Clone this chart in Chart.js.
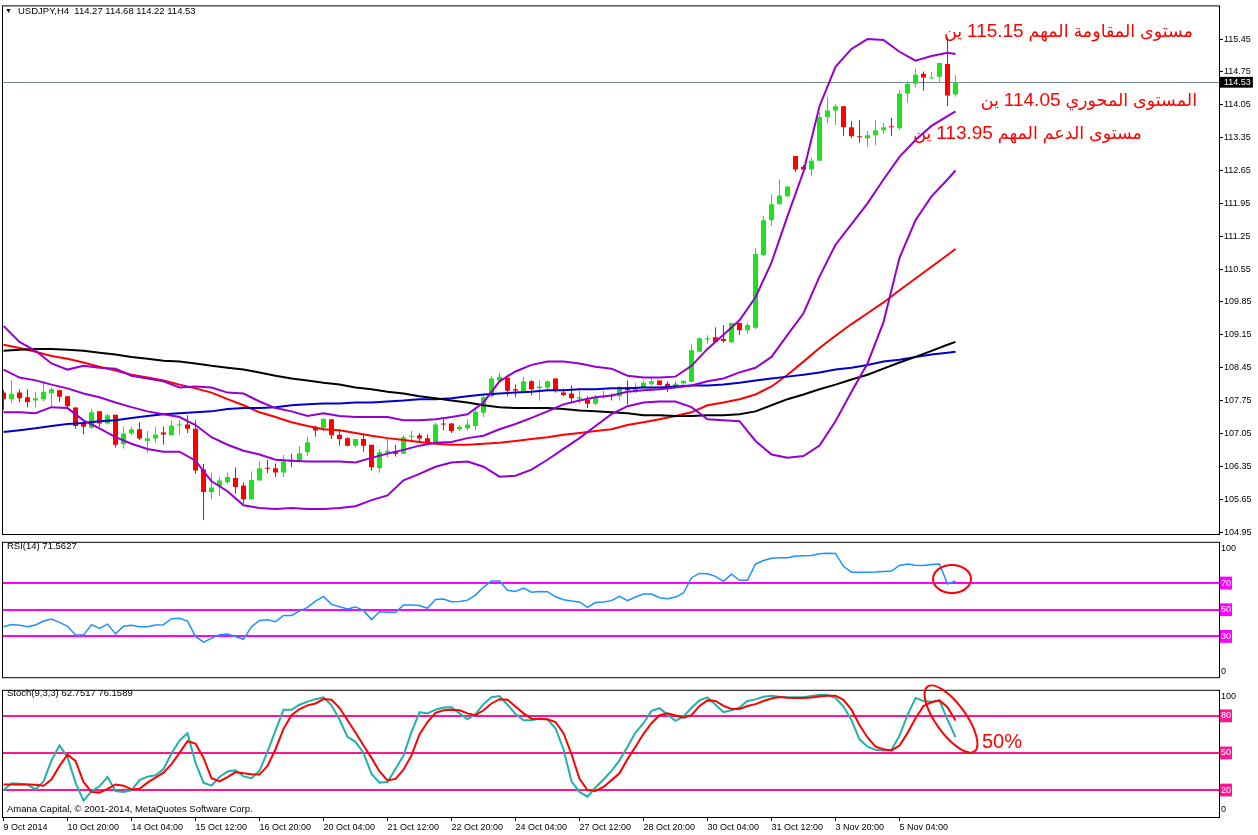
<!DOCTYPE html>
<html><head><meta charset="utf-8">
<script src="https://cdn.jsdelivr.net/npm/chart.js@4.4.1/dist/chart.umd.min.js"></script>
<style>
body{margin:0;background:#fff;width:1258px;height:835px;overflow:hidden;position:relative;font-family:"Liberation Sans",Arial,sans-serif;}
canvas{position:absolute;left:0;}
.t{position:absolute;font-size:9.5px;line-height:12px;color:#000;white-space:nowrap;}
.ar{position:absolute;color:#f00;font-size:17.5px;line-height:22px;direction:rtl;white-space:nowrap;font-family:"Liberation Sans","DejaVu Sans",sans-serif;}
.ar b{font-weight:normal;font-size:19px;}
</style></head><body>
<canvas id="main" width="1258" height="545" style="top:0"></canvas>
<canvas id="rsi" width="1258" height="160" style="top:530px"></canvas>
<canvas id="sto" width="1258" height="157" style="top:678px"></canvas>
<svg width="1258" height="835" style="position:absolute;left:0;top:0;pointer-events:none">
<ellipse cx="952" cy="579" rx="19" ry="14" fill="none" stroke="#f00" stroke-width="2"/>
<ellipse cx="951" cy="719" rx="40" ry="15" transform="rotate(54 951 719)" fill="none" stroke="#f00" stroke-width="2"/>
</svg>
<div class="t" style="left:5px;top:5px;font-size:7px">▼</div>
<div class="t" style="left:18px;top:5px">USDJPY,H4&nbsp; 114.27 114.68 114.22 114.53</div>
<div class="t" style="left:7px;top:540px">RSI(14) 71.5627</div>
<div class="t" style="left:7px;top:687px">Stoch(9,3,3) 62.7517 76.1589</div>
<div class="t" style="left:7px;top:803px">Amana Capital, © 2001-2014, MetaQuotes Software Corp.</div>
<div class="ar" style="right:65px;top:20px">مستوى المقاومة المهم <b>115.15</b> ين</div>
<div class="ar" style="right:61px;top:89px">المستوى المحوري <b>114.05</b> ين</div>
<div class="ar" style="right:116px;top:122px">مستوى الدعم المهم <b>113.95</b> ين</div>
<div class="ar" style="left:982px;top:730px;direction:ltr;font-size:20px">50%</div>
<script>
// ---- data ----
const opens=[107.92,107.78,107.92,107.82,107.75,107.78,107.91,107.97,107.84,107.60,107.28,107.17,107.52,107.26,107.45,106.82,107.05,107.14,106.89,106.94,107.07,107.01,107.22,107.24,107.15,106.28,105.80,105.93,106.01,106.10,105.94,105.65,106.05,106.31,106.31,106.22,106.49,106.47,106.65,107.19,107.17,107.35,107.02,106.95,106.79,106.93,106.81,106.31,106.64,106.67,106.62,106.98,107.01,106.95,106.87,107.26,107.26,107.14,107.16,107.21,107.49,107.84,108.18,108.23,107.99,107.94,108.16,108.01,108.03,108.22,107.92,107.90,107.79,107.77,107.68,107.82,107.87,107.84,108.04,107.96,108.03,108.10,108.18,108.11,108.05,108.12,108.15,108.79,109.05,109.10,109.06,108.99,109.40,109.25,109.30,110.85,111.59,111.93,112.10,112.96,112.73,112.67,112.86,113.79,113.93,114.02,113.57,113.38,113.34,113.40,113.51,113.59,113.55,114.29,114.50,114.71,114.61,114.65,114.92,114.27];
const highs=[107.98,108.18,107.99,107.99,107.94,108.16,108.03,107.98,107.84,107.61,107.31,107.57,107.52,107.47,107.45,107.19,107.19,107.29,107.10,107.19,107.19,107.33,107.33,107.44,107.33,106.40,106.21,106.12,106.22,106.33,106.01,106.24,106.45,106.49,106.41,106.59,106.62,106.78,106.98,107.22,107.38,107.35,107.14,106.97,106.93,107.02,106.81,106.71,106.93,106.81,107.01,107.10,107.06,107.03,107.28,107.35,107.28,107.23,107.35,107.61,107.87,108.27,108.34,108.30,108.09,108.26,108.19,108.18,108.18,108.23,108.00,108.07,107.96,107.84,107.87,107.96,107.90,108.06,108.18,108.13,108.18,108.23,108.18,108.16,108.16,108.18,108.95,109.10,109.14,109.31,109.36,109.40,109.40,109.40,111.00,111.68,112.14,112.46,112.31,112.96,112.77,112.92,113.89,114.21,114.06,114.02,113.70,113.72,113.49,113.72,113.66,113.78,114.37,114.56,114.82,114.76,114.75,114.94,115.49,114.68];
const lows=[107.55,107.70,107.71,107.61,107.61,107.73,107.61,107.72,107.59,107.15,107.03,107.15,107.19,107.24,106.75,106.73,107.01,106.91,106.64,106.85,106.81,107.01,107.02,107.06,106.19,105.20,105.65,105.72,105.98,105.77,105.55,105.63,106.05,106.20,106.12,106.12,106.33,106.47,106.57,106.98,107.09,106.93,106.79,106.77,106.75,106.66,106.26,106.21,106.54,106.56,106.61,106.89,106.89,106.82,106.85,107.12,107.06,107.10,107.11,107.11,107.40,107.81,108.13,107.84,107.82,107.92,107.86,107.75,107.94,107.92,107.84,107.70,107.68,107.59,107.65,107.79,107.75,107.75,107.66,107.91,108.01,108.07,108.08,107.93,108.04,108.07,108.14,108.78,108.96,108.99,108.98,108.98,109.15,109.17,109.27,110.83,111.47,111.93,112.08,112.62,112.65,112.54,112.86,113.66,113.62,113.38,113.34,113.24,113.15,113.19,113.43,113.38,113.51,114.10,114.42,114.35,114.61,114.54,114.02,114.22];
const closes=[107.78,107.89,107.80,107.72,107.80,107.94,107.99,107.83,107.63,107.21,107.19,107.50,107.26,107.44,106.81,107.05,107.14,106.94,106.95,107.03,107.03,107.22,107.24,107.15,106.26,105.80,105.90,106.05,106.12,105.91,105.65,106.06,106.31,106.30,106.22,106.45,106.45,106.63,106.86,107.11,107.36,107.01,106.93,106.79,106.93,106.79,106.33,106.65,106.68,106.61,106.97,106.99,106.94,106.84,107.24,107.24,107.10,107.19,107.24,107.51,107.82,108.22,108.26,107.96,107.96,108.16,107.99,108.05,108.16,107.97,107.87,107.80,107.82,107.68,107.83,107.84,107.84,108.04,107.97,108.04,108.13,108.16,108.08,108.05,108.11,108.17,108.82,109.08,109.08,109.00,109.02,109.40,109.25,109.36,110.87,111.59,111.93,112.12,112.31,112.67,112.67,112.86,113.79,113.93,114.02,113.57,113.38,113.36,113.40,113.51,113.57,113.57,114.29,114.50,114.69,114.63,114.63,114.94,114.25,114.53];

const lineIdx=[0,2,4,6,8,10,12,14,16,18,20,22,24,26,28,30,32,34,36,38,40,42,44,46,48,50,52,54,56,58,60,62,64,66,68,70,72,74,76,78,80,82,84,86,88,90,92,94,96,98,100,102,104,106,108,110,112,114,116,118,119];
const bbUpper=[109.34,109.00,108.81,108.54,108.41,108.49,108.45,108.43,108.28,108.22,108.16,108.03,108.05,108.03,107.92,107.90,107.73,107.59,107.52,107.42,107.48,107.42,107.40,107.40,107.40,107.33,107.33,107.35,107.40,107.46,107.71,108.16,108.37,108.51,108.58,108.58,108.54,108.47,108.43,108.28,108.24,108.24,108.26,108.49,108.85,109.15,109.46,109.95,110.69,111.68,112.63,114.02,114.86,115.24,115.45,115.43,115.18,114.99,115.09,115.16,115.13];
const bbMiddle=[108.41,108.24,108.18,108.09,108.01,107.90,107.82,107.71,107.61,107.52,107.46,107.40,107.23,106.97,106.81,106.68,106.60,106.49,106.47,106.45,106.45,106.45,106.43,106.53,106.62,106.70,106.79,106.85,106.87,106.95,107.00,107.14,107.25,107.38,107.52,107.67,107.75,107.82,107.86,107.94,107.97,107.99,108.03,108.07,108.16,108.22,108.35,108.45,108.68,109.15,109.61,110.39,111.07,111.51,111.95,112.46,112.94,113.30,113.60,113.81,113.91];
const bbLower=[107.50,107.50,107.48,107.61,107.59,107.33,107.16,106.97,106.83,106.72,106.66,106.66,106.47,106.03,105.82,105.52,105.46,105.44,105.46,105.44,105.44,105.46,105.50,105.63,105.73,106.05,106.19,106.34,106.43,106.45,106.34,106.13,106.15,106.28,106.49,106.72,106.95,107.21,107.46,107.63,107.71,107.73,107.73,107.61,107.35,107.33,107.31,106.89,106.60,106.53,106.57,106.79,107.31,107.94,108.54,109.42,110.79,111.59,112.10,112.46,112.65];
const maRed=[108.94,108.87,108.79,108.70,108.64,108.56,108.47,108.39,108.30,108.24,108.18,108.09,108.01,107.92,107.78,107.65,107.50,107.40,107.29,107.21,107.14,107.12,107.06,107.00,106.95,106.91,106.87,106.83,106.81,106.81,106.83,106.85,106.89,106.93,106.97,107.02,107.06,107.10,107.14,107.23,107.29,107.35,107.42,107.50,107.65,107.71,107.78,107.88,108.05,108.30,108.58,108.87,109.13,109.38,109.61,109.84,110.10,110.35,110.60,110.85,110.98];
const maBlue=[107.08,107.12,107.16,107.21,107.25,107.27,107.31,107.33,107.38,107.42,107.46,107.48,107.50,107.52,107.57,107.59,107.59,107.61,107.65,107.67,107.69,107.69,107.71,107.71,107.73,107.75,107.78,107.78,107.80,107.84,107.88,107.90,107.92,107.94,107.97,107.97,107.99,107.99,108.01,108.01,108.03,108.03,108.05,108.07,108.07,108.09,108.13,108.18,108.22,108.26,108.30,108.35,108.41,108.45,108.51,108.58,108.62,108.68,108.73,108.77,108.79];
const maBlack=[108.81,108.83,108.85,108.85,108.83,108.81,108.77,108.73,108.68,108.64,108.60,108.58,108.54,108.49,108.45,108.41,108.35,108.28,108.22,108.18,108.13,108.09,108.03,107.99,107.94,107.90,107.84,107.80,107.75,107.71,107.65,107.61,107.59,107.59,107.59,107.57,107.54,107.52,107.50,107.48,107.44,107.44,107.42,107.42,107.44,107.44,107.46,107.52,107.65,107.78,107.88,107.99,108.09,108.20,108.30,108.43,108.56,108.68,108.81,108.94,109.00];

const rsi=[37.2,39.0,38.3,37.2,38.6,41.5,43.0,40.5,37.6,31.0,31.0,38.8,36.0,39.2,31.9,37.6,38.3,37.2,37.2,38.5,38.8,43.3,43.6,41.5,30.0,25.7,28.5,31.3,31.8,30.0,27.9,37.3,42.0,42.4,41.0,45.7,45.7,49.0,51.8,56.5,60.0,54.0,52.3,50.6,52.1,49.5,42.6,48.5,48.2,48.0,53.6,53.5,53.2,51.1,57.7,58.0,56.0,56.2,57.2,61.0,67.0,71.5,71.5,64.6,63.7,66.2,63.1,63.6,63.5,59.7,57.5,56.5,55.8,51.7,55.4,55.8,56.8,60.0,56.8,59.5,61.7,61.7,59.0,58.3,59.5,62.5,74.0,77.2,77.0,75.0,71.2,76.6,72.1,72.1,84.3,86.9,88.5,88.9,89.0,90.2,90.5,90.7,92.0,92.3,92.2,82.5,78.1,78.1,78.1,78.2,78.6,79.0,83.2,84.2,83.4,83.2,83.8,84.2,69.3,71.56];
const stochK=[19.8,25.5,25.0,24.4,20.5,27.0,44.0,56.0,46.5,26.0,11.5,19.0,23.0,30.5,19.2,18.5,19.8,28.0,30.8,32.0,37.0,49.5,60.0,66.0,42.0,26.0,23.5,30.5,35.0,36.0,31.0,29.6,35.5,51.0,68.0,84.9,84.9,89.0,91.5,93.5,95.0,88.5,77.0,63.0,59.0,50.0,33.0,26.0,26.5,37.0,48.0,67.0,83.0,82.0,85.0,86.8,87.0,82.0,77.2,81.3,89.5,95.0,96.0,89.0,81.5,76.5,76.4,77.8,77.0,70.0,53.0,27.0,18.5,14.6,22.0,28.5,35.5,44.0,55.0,66.5,74.0,84.0,86.2,81.0,76.0,79.5,86.5,92.5,95.0,89.0,83.0,84.5,86.8,92.0,93.3,95.5,96.2,95.5,95.1,95.1,95.1,96.0,97.0,96.8,94.5,87.5,76.5,61.0,55.0,52.5,52.0,52.5,64.0,80.5,94.5,92.0,91.5,92.3,77.0,62.75];
const stochD=[24.4,24.4,24.4,24.4,24.2,23.4,28.5,39.5,48.5,43.5,26.5,18.5,17.9,21.0,24.5,23.5,20.5,21.0,26.0,30.0,34.0,41.0,50.0,59.5,57.5,46.0,29.5,27.0,30.5,34.5,33.5,32.8,32.5,39.5,53.0,69.5,80.5,85.5,88.5,90.0,93.6,93.0,86.5,76.5,66.5,56.0,46.0,35.0,27.8,29.0,36.5,48.0,65.0,75.0,82.5,84.5,85.0,84.5,82.0,80.5,84.5,90.0,93.5,93.0,87.5,82.0,77.7,77.5,77.2,75.0,66.0,49.0,29.0,20.0,19.2,22.5,28.0,33.5,45.0,55.0,65.5,74.0,80.5,82.0,80.3,78.5,80.5,88.0,92.5,92.0,88.0,85.5,85.5,88.0,89.5,92.0,94.0,95.2,94.6,94.5,94.5,94.8,95.7,96.3,96.3,93.0,85.0,72.5,62.5,55.0,53.0,52.0,56.0,66.0,78.0,88.0,91.0,92.5,87.0,76.16];

const dateTickIdx=[0,8,16,24,32,40,48,56,64,72,80,88,96,104,112];
const dateLabels=['9 Oct 2014','10 Oct 20:00','14 Oct 04:00','15 Oct 12:00','16 Oct 20:00','20 Oct 04:00','21 Oct 12:00','22 Oct 20:00','24 Oct 04:00','27 Oct 12:00','28 Oct 20:00','30 Oct 04:00','31 Oct 12:00','3 Nov 20:00','5 Nov 04:00'];
const priceTicks=[104.95,105.65,106.35,107.05,107.75,108.45,109.15,109.85,110.55,111.25,111.95,112.65,113.35,114.05,114.75,115.45];
const lastPrice=114.53;
const rsiTicks=[0,30,50,70,100];
const rsiLevels=[30,50,70];
const stochTicks=[0,20,50,80,100];
const stochLevels=[20,50,80];

// ---- styling ----
const FONT='"Liberation Sans", Arial, sans-serif';
Chart.defaults.font.family=FONT;
Chart.defaults.font.size=9;
Chart.defaults.color='#000';
const X_MIN=-0.0625, X_MAX=151.9375;
const GREEN='#1EE01E', RED='#FF0000', PURPLE='#9400D3';

const framePlugin={id:'frame',afterDraw(c){const a=c.chartArea,ctx=c.ctx;ctx.save();ctx.strokeStyle='#000';ctx.lineWidth=1;ctx.strokeRect(a.left-0.5,a.top-0.5,a.right-a.left+1,a.bottom-a.top+1);ctx.restore();}};

function lineDs(vals,color,w,order){
  return {type:'line',data:lineIdx.map((x,k)=>({x:x,y:vals[k]})),borderColor:color,borderWidth:w,pointRadius:0,tension:0,order:order,fill:false};
}
function perBar(vals,color,w,order){
  return {type:'line',data:vals.map((v,i)=>({x:i,y:v})),borderColor:color,borderWidth:w,pointRadius:0,tension:0,order:order,fill:false};
}
const candleColors=opens.map((o,i)=>closes[i]>=o?GREEN:RED);
const baseOpts={responsive:false,animation:false,events:[],devicePixelRatio:1,
  plugins:{legend:{display:false},tooltip:{enabled:false}}};
const xHidden={type:'linear',min:X_MIN,max:X_MAX,display:false,offset:false,grid:{offset:false}};

// ---- main price chart ----
new Chart(document.getElementById('main'),{
  type:'bar',
  data:{datasets:[
    lineDs(bbUpper,PURPLE,2,0),
    lineDs(bbMiddle,PURPLE,2,0),
    lineDs(bbLower,PURPLE,2,0),
    lineDs(maBlack,'#000000',2,0),
    lineDs(maBlue,'#0000CD',2,0),
    lineDs(maRed,RED,2,0),
    {type:'bar',data:opens.map((o,i)=>({x:i,y:[lows[i],highs[i]]})),backgroundColor:candleColors,barThickness:1,grouped:false,order:3,inflateAmount:0,borderWidth:0},
    {type:'bar',data:opens.map((o,i)=>({x:i,y:[o,closes[i]]})),backgroundColor:candleColors,barThickness:5,grouped:false,order:2,inflateAmount:0,borderWidth:0,minBarLength:1}
  ]},
  options:Object.assign({},baseOpts,{
    layout:{padding:{left:3,top:1,bottom:11,right:0}},
    scales:{
      x:xHidden,
      y:{position:'right',min:104.908,max:116.146,
        afterFit(s){s.width=39;},
        afterBuildTicks(s){s.ticks=priceTicks.concat([lastPrice]).map(v=>({value:v}));},
        ticks:{autoSkip:false,padding:1,callback:v=>v.toFixed(2),
          color:c=>c.tick&&c.tick.value===lastPrice?'#fff':'#000',
          showLabelBackdrop:c=>!!(c.tick&&c.tick.value===lastPrice),
          backdropColor:'#000',backdropPadding:{left:4,right:2,top:0,bottom:0}},
        grid:{color:c=>c.tick&&c.tick.value===lastPrice?'#778899':'rgba(0,0,0,0)',lineWidth:1,tickColor:'#000',tickLength:4},
        border:{display:false}}
    }
  }),
  plugins:[framePlugin]
});

// ---- RSI ----
new Chart(document.getElementById('rsi'),{
  type:'line',
  data:{datasets:[perBar(rsi,'#1E90FF',1.5,0)]},
  options:Object.assign({},baseOpts,{
    layout:{padding:{left:3,top:7,bottom:7,right:0}},
    scales:{
      x:xHidden,
      y:{position:'right',min:-0.55,max:100.14,
        afterFit(s){s.width=39;},
        afterBuildTicks(s){s.ticks=rsiTicks.map(v=>({value:v}));},
        ticks:{autoSkip:false,padding:2,
          callback:v=>v===100?['',String(v)]:(v===0?[String(v),'']:String(v)),
          color:c=>c.tick&&rsiLevels.includes(c.tick.value)?'#fff':'#000',
          showLabelBackdrop:c=>!!(c.tick&&rsiLevels.includes(c.tick.value)),
          backdropColor:'#FF00FF',backdropPadding:{left:1,right:1,top:1,bottom:1}},
        grid:{drawTicks:false,color:c=>c.tick&&rsiLevels.includes(c.tick.value)?'#FF00FF':'rgba(0,0,0,0)',lineWidth:2},
        border:{display:false}}
    }
  }),
  plugins:[framePlugin]
});

// ---- Stochastic ----
new Chart(document.getElementById('sto'),{
  type:'line',
  data:{datasets:[perBar(stochK,'#20B2AA',2,1),perBar(stochD,RED,2,0)]},
  options:Object.assign({},baseOpts,{
    layout:{padding:{left:3,top:8,bottom:0,right:0}},
    scales:{
      x:{type:'linear',min:X_MIN,max:X_MAX,position:'bottom',offset:false,
        afterFit(s){s.height=18;},
        afterBuildTicks(s){s.ticks=dateTickIdx.map(v=>({value:v}));},
        ticks:{autoSkip:false,maxRotation:0,minRotation:0,align:'start',padding:1,
          callback:v=>dateLabels[dateTickIdx.indexOf(v)]},
        grid:{drawOnChartArea:false,tickLength:4,tickColor:'#000',color:'#000'},
        border:{display:false}},
      y:{position:'right',min:-1.82,max:100.26,
        afterFit(s){s.width=39;},
        afterBuildTicks(s){s.ticks=stochTicks.map(v=>({value:v}));},
        ticks:{autoSkip:false,padding:2,
          callback:v=>v===100?['',String(v)]:(v===0?[String(v),'']:String(v)),
          color:c=>c.tick&&stochLevels.includes(c.tick.value)?'#fff':'#000',
          showLabelBackdrop:c=>!!(c.tick&&stochLevels.includes(c.tick.value)),
          backdropColor:'#FF1493',backdropPadding:{left:1,right:1,top:1,bottom:1}},
        grid:{drawTicks:false,color:c=>c.tick&&stochLevels.includes(c.tick.value)?'#FF1493':'rgba(0,0,0,0)',lineWidth:2},
        border:{display:false}}
    }
  }),
  plugins:[framePlugin]
});
</script>
</body></html>
